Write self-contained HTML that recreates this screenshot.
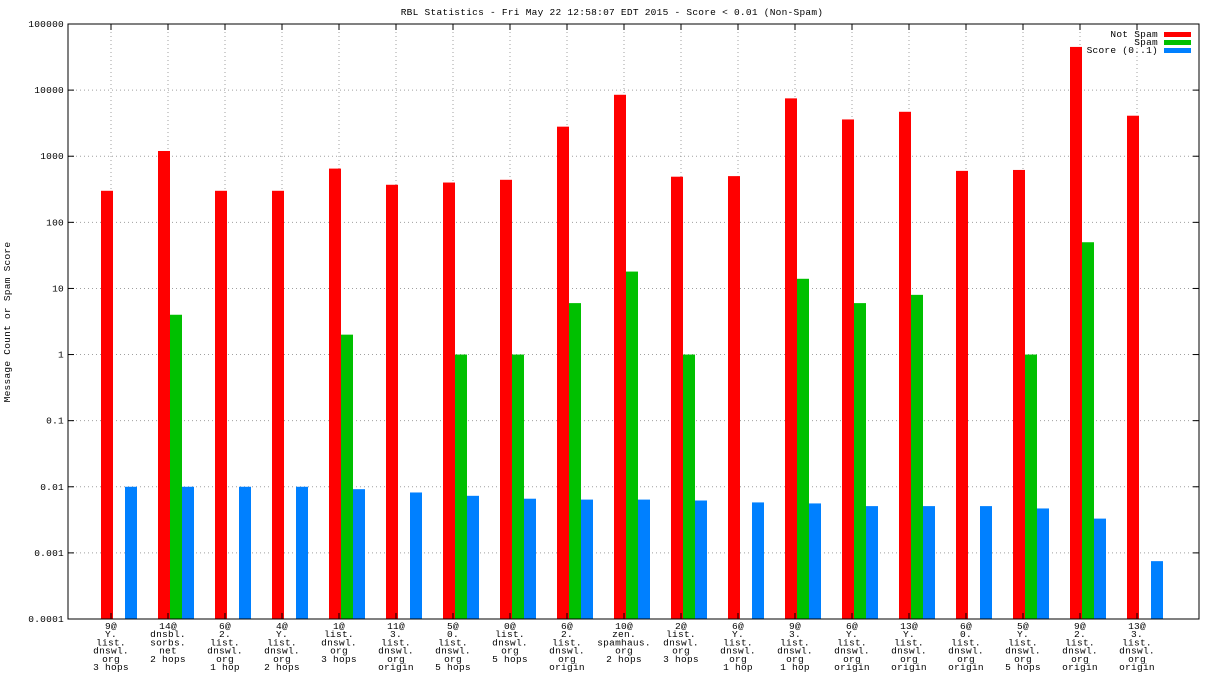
<!DOCTYPE html>
<html><head><meta charset="utf-8"><style>
body{margin:0;background:#fff;}
svg{display:block;font-family:"Liberation Mono","DejaVu Sans Mono",monospace;font-size:9.5px;letter-spacing:0.25px;}
</style></head><body>
<svg id="chart" width="1216" height="684" viewBox="0 0 1216 684">
<text x="612" y="15" text-anchor="middle">RBL Statistics - Fri May 22 12:58:07 EDT 2015 - Score &lt; 0.01 (Non-Spam)</text>
<text transform="translate(10,322) rotate(-90)" text-anchor="middle">Message Count or Spam Score</text>
<g id="grid"></g><g id="bars"></g><g id="axes"></g><g id="legend"></g>
</svg>
<script>
const categories=[["9@","Y.","list.","dnswl.","org","3 hops"],["14@","dnsbl.","sorbs.","net","2 hops"],["6@","2.","list.","dnswl.","org","1 hop"],["4@","Y.","list.","dnswl.","org","2 hops"],["1@","list.","dnswl.","org","3 hops"],["11@","3.","list.","dnswl.","org","origin"],["5@","0.","list.","dnswl.","org","5 hops"],["0@","list.","dnswl.","org","5 hops"],["6@","2.","list.","dnswl.","org","origin"],["10@","zen.","spamhaus.","org","2 hops"],["2@","list.","dnswl.","org","3 hops"],["6@","Y.","list.","dnswl.","org","1 hop"],["9@","3.","list.","dnswl.","org","1 hop"],["6@","Y.","list.","dnswl.","org","origin"],["13@","Y.","list.","dnswl.","org","origin"],["6@","0.","list.","dnswl.","org","origin"],["5@","Y.","list.","dnswl.","org","5 hops"],["9@","2.","list.","dnswl.","org","origin"],["13@","3.","list.","dnswl.","org","origin"]];
const notSpam=[300,1200,300,300,650,370,400,440,2800,8500,490,500,7500,3600,4700,600,620,45000,4100];
const spam=[0,4,0,0,2,0,1,1,6,18,1,0,14,6,8,0,1,50,0];
const score=[0.01,0.01,0.01,0.01,0.0092,0.0082,0.0073,0.0066,0.0064,0.0064,0.0062,0.0058,0.0056,0.0051,0.0051,0.0051,0.0047,0.0033,0.00075];
const yTicks=[0.0001,0.001,0.01,0.1,1,10,100,1000,10000,100000];
const yTickLabels=["0.0001","0.001","0.01","0.1","1","10","100","1000","10000","100000"];
const L=68,R=1199,T=24,B=619;
const NS="http://www.w3.org/2000/svg";
function y(v){return B-(Math.log10(v)+4)/9*(B-T);}
function xc(i){return 111+57*i;}
function mk(p,t,a){const e=document.createElementNS(NS,t);for(const k in a)e.setAttribute(k,a[k]);p.appendChild(e);return e;}
const g=document.getElementById('grid'),b=document.getElementById('bars'),ax=document.getElementById('axes'),lg=document.getElementById('legend');
yTicks.forEach((v,i)=>{const yy=y(v);
 if(i>0&&i<yTicks.length-1){const l=mk(g,'line',{x1:L,x2:R,y1:yy,y2:yy,stroke:'#a0a0a0','stroke-dasharray':'1,3'});}
 mk(ax,'line',{x1:L,x2:L+6,y1:yy,y2:yy,stroke:'#000'});mk(ax,'line',{x1:R-6,x2:R,y1:yy,y2:yy,stroke:'#000'});
 const t=mk(ax,'text',{x:L-4,y:yy+3,'text-anchor':'end'});t.textContent=yTickLabels[i];
 
});
categories.forEach((c,i)=>{const cx=xc(i);
 const l=mk(g,'line',{x1:cx,x2:cx,y1:T,y2:B,stroke:'#a0a0a0','stroke-dasharray':'1,3'});
 mk(ax,'line',{x1:cx,x2:cx,y1:B,y2:B-6,stroke:'#000'});mk(ax,'line',{x1:cx,x2:cx,y1:T,y2:T+6,stroke:'#000'});
 const t=mk(ax,'text',{x:cx,y:629,'text-anchor':'middle'});
 
 c.forEach((s,j)=>{const ts=mk(t,'tspan',{x:cx,dy:j?8.2:0});ts.textContent=s;});
 [[notSpam,'#ff0000',-10,'bar-not-spam'],[spam,'#00c000',2,'bar-spam'],[score,'#0080ff',14,'bar-score']].forEach(([arr,col,off,nm])=>{
  const v=arr[i];if(!(v>0))return;const yy=y(v);
  const r=mk(b,'rect',{x:cx+off,y:yy,width:12,height:B-yy,fill:col});
  
 });
});
const fr=mk(ax,'rect',{x:L,y:T,width:R-L,height:B-T,fill:'none',stroke:'#000'});

[["Not Spam","#ff0000"],["Spam","#00c000"],["Score (0..1)","#0080ff"]].forEach(([n,c],i)=>{
 const yy=34+i*8;
 const t=mk(lg,'text',{x:1158,y:yy+3,'text-anchor':'end'});t.textContent=n;
 
 const r=mk(lg,'rect',{x:1164,y:yy-2,width:27,height:5,fill:c});
 
});
</script>
</body></html>
